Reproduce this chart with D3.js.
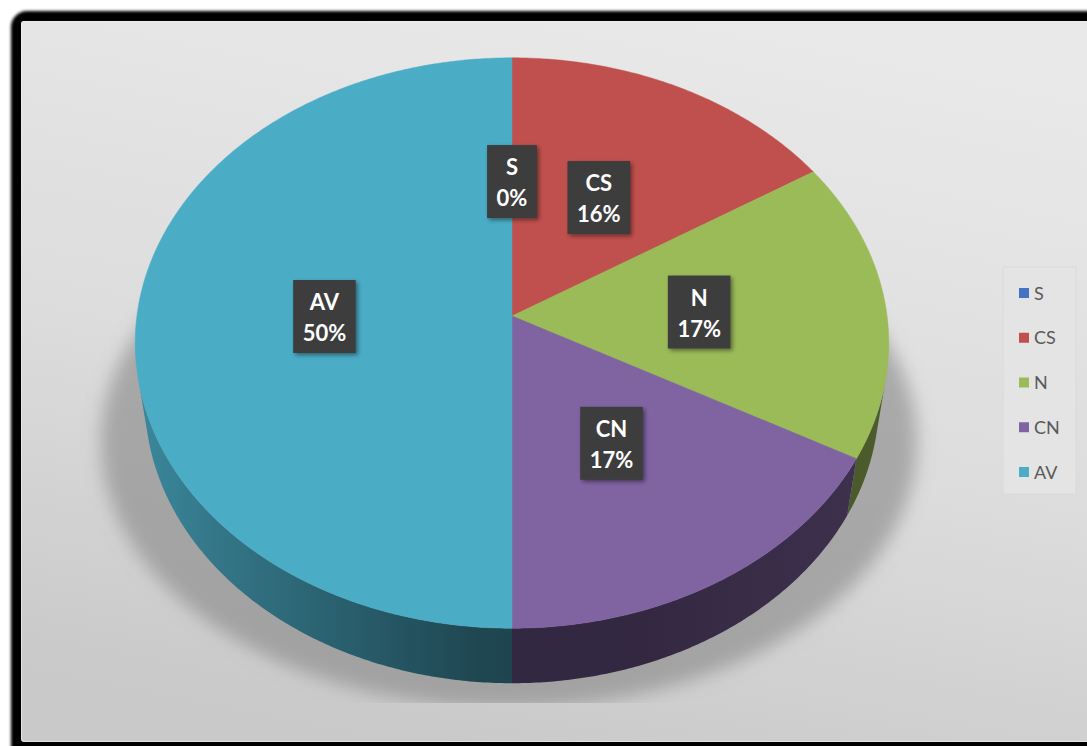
<!DOCTYPE html>
<html>
<head>
<meta charset="utf-8">
<script src="https://cdn.jsdelivr.net/npm/d3@7"></script>
<style>
  html, body { margin: 0; padding: 0; background: #ffffff; overflow: hidden; }
  svg { display: block; }
</style>
</head>
<body>
<svg id="chart" width="1087" height="746"></svg>
<script>
// ---- data ----
const categories = ["S", "CS", "N", "CN", "AV"];
const values = [0, 16, 17, 17, 50];
const sliceColors = ["#4472c4", "#c0504d", "#9bbb59", "#8064a2", "#4bacc6"];

// ---- 3D camera for the tilted pie ----
const tiltDeg = 48.9;
const ca = Math.cos(tiltDeg * Math.PI / 180);
const sa = Math.sin(tiltDeg * Math.PI / 180);
const cam = { cx: 512, cy: 316, F: 2603, D: 6.94 };
const thickness = 0.241;      // pie height relative to radius
const labelRadius = 0.5;

function project(u, v, w) {
  const depth = cam.D + v * ca - w * sa;
  return [cam.cx + cam.F * u / depth, cam.cy - cam.F * (v * sa + w * ca) / depth];
}
function arcPoints(a0, a1, r, w) {
  const n = Math.max(2, Math.ceil((a1 - a0) / (Math.PI / 360)));
  return d3.range(n + 1).map(i => {
    const a = a0 + (a1 - a0) * i / n;
    return project(r * Math.sin(a), r * Math.cos(a), w);
  });
}

const svg = d3.select("#chart");
const W = 1087, H = 746;
const defs = svg.append("defs");

// background gradient of the chart area
const bg = defs.append("linearGradient").attr("id", "bgGrad")
  .attr("x1", "0.65").attr("y1", "0").attr("x2", "0.35").attr("y2", "1");
bg.append("stop").attr("offset", "0").attr("stop-color", "#e9e9e9");
bg.append("stop").attr("offset", "0.55").attr("stop-color", "#dcdcdc");
bg.append("stop").attr("offset", "1").attr("stop-color", "#c9c9c9");

defs.append("filter").attr("id", "frameBlur").attr("x", "-5%").attr("y", "-5%").attr("width", "110%").attr("height", "110%")
  .append("feGaussianBlur").attr("stdDeviation", 1.8);
defs.append("filter").attr("id", "shadowBlur").attr("x", "-20%").attr("y", "-20%").attr("width", "140%").attr("height", "140%")
  .append("feGaussianBlur").attr("stdDeviation", 9);
const ds = defs.append("filter").attr("id", "boxShadow").attr("x", "-30%").attr("y", "-30%").attr("width", "160%").attr("height", "160%");
ds.append("feDropShadow").attr("dx", 2).attr("dy", 2).attr("stdDeviation", 2).attr("flood-color", "#000").attr("flood-opacity", 0.45);
defs.append("clipPath").attr("id", "floorClip")
  .append("rect").attr("x", 0).attr("y", 0).attr("width", W).attr("height", 703);

// ---- frame ----
svg.append("rect").attr("x", 11).attr("y", 11).attr("width", W + 40).attr("height", H + 40)
  .attr("rx", 16).attr("fill", "#000").attr("filter", "url(#frameBlur)");
svg.append("rect").attr("x", 21).attr("y", 21).attr("width", W).attr("height", 721)
  .attr("rx", 3).attr("fill", "url(#bgGrad)");
svg.append("rect").attr("x", 21.5).attr("y", 21.5).attr("width", W).attr("height", 720)
  .attr("rx", 3).attr("fill", "none").attr("stroke", "#efefef").attr("stroke-opacity", 0.7);

// ---- floor shadow ----
svg.append("g").attr("clip-path", "url(#floorClip)")
  .append("ellipse").attr("cx", 509).attr("cy", 442).attr("rx", 408).attr("ry", 266)
  .attr("fill", "#858585").attr("fill-opacity", 0.6).attr("filter", "url(#shadowBlur)");

// ---- pie ----
const pie = d3.pie().sort(null).value(d => d.value).startAngle(0).endAngle(2 * Math.PI);
const data = categories.map((c, i) => ({ name: c, value: values[i] }));
const arcs = pie(data);
const total = d3.sum(values);
const color = d3.scaleOrdinal().domain(categories).range(sliceColors);
const pct = d3.format(".0%");
const line = d3.line();

// visible part of the outer wall
const vis0 = Math.acos(-1 / (cam.D * ca));
const vis1 = 2 * Math.PI - vis0;

function wallShade(a) {
  const s = Math.sin(a);
  let f = 0.40;
  if (s < 0) f += 0.40 * Math.max(0, (-s - 0.05) / 0.95);
  else f += 0.10 * Math.max(0, (s - 0.3) / 0.7);
  return f;
}
function scaleColor(c, f) {
  const r = d3.rgb(c);
  return d3.rgb(r.r * f, r.g * f, r.b * f).formatHex();
}

// each visible wall piece is one path, shaded by a horizontal gradient
const walls = svg.append("g");
arcs.forEach((a, idx) => {
  const lo = Math.max(a.startAngle, vis0), hi = Math.min(a.endAngle, vis1);
  if (hi <= lo) return;
  const top = arcPoints(lo, hi, 1, 0);
  const bot = arcPoints(lo, hi, 1, -thickness).reverse();
  const x0 = project(Math.sin(lo), Math.cos(lo), 0)[0];
  const x1 = project(Math.sin(hi), Math.cos(hi), 0)[0];
  const grad = defs.append("linearGradient").attr("id", "wall" + idx)
    .attr("gradientUnits", "userSpaceOnUse")
    .attr("x1", x0).attr("y1", 0).attr("x2", x1).attr("y2", 0);
  const n = 16;
  d3.range(n + 1).forEach(i => {
    const t = lo + (hi - lo) * i / n;
    const x = project(Math.sin(t), Math.cos(t), 0)[0];
    const off = x1 === x0 ? 0 : (x - x0) / (x1 - x0);
    grad.append("stop").attr("offset", Math.min(1, Math.max(0, off)))
      .attr("stop-color", scaleColor(color(a.data.name), wallShade(t)));
  });
  walls.append("path").attr("d", line(top.concat(bot)) + "Z")
    .attr("fill", "url(#wall" + idx + ")");
});

const tops = svg.append("g");
arcs.forEach(a => {
  if (a.endAngle - a.startAngle <= 0) return;
  const pts = [project(0, 0, 0)].concat(arcPoints(a.startAngle, a.endAngle, 1, 0));
  tops.append("path").attr("d", line(pts) + "Z").attr("fill", color(a.data.name))
    .attr("stroke", color(a.data.name)).attr("stroke-width", 0.5);
});

// ---- data labels ----
const labels = svg.append("g").attr("font-family", "Lato, 'Open Sans', sans-serif")
  .attr("font-weight", "bold").attr("font-size", 22).attr("fill", "#ffffff");
arcs.forEach(a => {
  const mid = (a.startAngle + a.endAngle) / 2;
  const [x, y] = project(labelRadius * Math.sin(mid), labelRadius * Math.cos(mid), 0);
  const g = labels.append("g");
  const box = g.append("rect").attr("fill", "#3c3c3c").attr("filter", "url(#boxShadow)");
  const t1 = g.append("text").attr("x", x).attr("y", y - 6).attr("text-anchor", "middle").text(a.data.name);
  const t2 = g.append("text").attr("x", x).attr("y", y + 25).attr("text-anchor", "middle").text(pct(a.data.value / total));
  const w = Math.max(t1.node().getComputedTextLength(), t2.node().getComputedTextLength()) + 19;
  box.attr("x", x - w / 2).attr("y", y - 36).attr("width", w).attr("height", 73);
});

// ---- legend ----
const legend = svg.append("g");
legend.append("rect").attr("x", 1003).attr("y", 267).attr("width", 73).attr("height", 227)
  .attr("fill", "#e4e4e4").attr("stroke", "#dadada").attr("stroke-width", 1);
const ly = d3.scalePoint().domain(categories).range([293, 472]);
categories.forEach(c => {
  legend.append("rect").attr("x", 1019).attr("y", ly(c) - 5).attr("width", 10).attr("height", 10).attr("fill", color(c));
  legend.append("text").attr("x", 1034).attr("y", ly(c) + 6.5)
    .attr("font-family", "Lato, 'Open Sans', sans-serif").attr("font-size", 18).attr("fill", "#595959").text(c);
});
</script>
</body>
</html>
